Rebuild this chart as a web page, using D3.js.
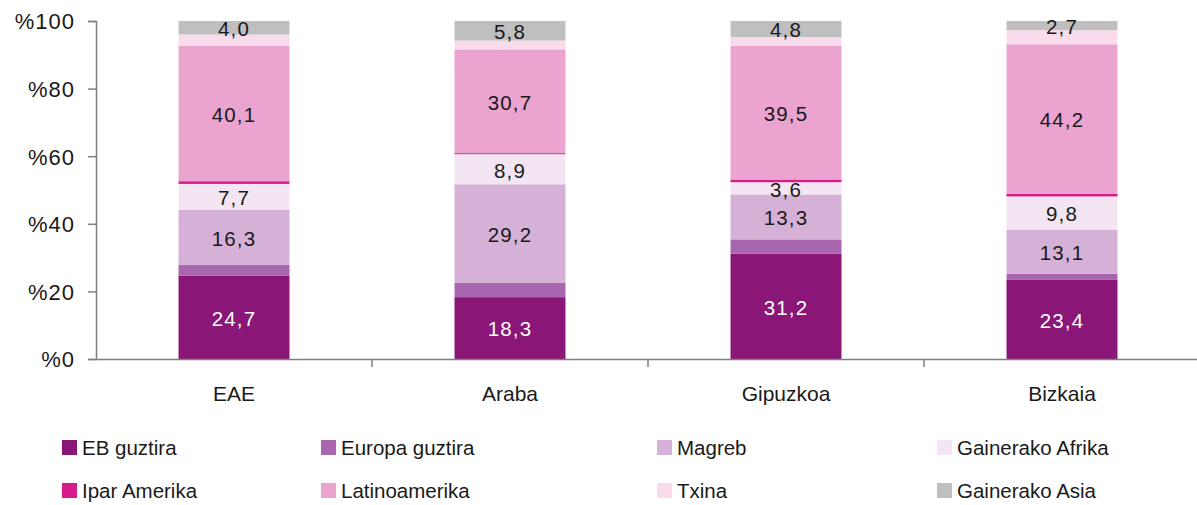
<!DOCTYPE html>
<html>
<head>
<meta charset="utf-8">
<script src="https://cdn.jsdelivr.net/npm/d3@7"></script>
<style>
html,body{margin:0;padding:0;background:#fff;}
svg{display:block;}
text{font-family:"Liberation Sans",Arial,sans-serif;fill:#1a1a1a;}
</style>
</head>
<body>
<svg id="chart" width="1197" height="505"></svg>
<script>
const categories = ["EAE", "Araba", "Gipuzkoa", "Bizkaia"];
const seriesNames = ["EB guztira", "Europa guztira", "Magreb", "Gainerako Afrika", "Ipar Amerika", "Latinoamerika", "Txina", "Gainerako Asia"];
const ebGuztira       = [24.7, 18.3, 31.2, 23.4];
const europaGuztira   = [3.1, 4.2, 4.2, 1.8];
const magreb          = [16.3, 29.2, 13.3, 13.1];
const gainerakoAfrika = [7.7, 8.9, 3.6, 9.8];
const iparAmerika     = [0.8, 0.3, 0.8, 0.8];
const latinoamerika   = [40.1, 30.7, 39.5, 44.2];
const txina           = [3.3, 2.6, 2.6, 4.2];
const gainerakoAsia   = [4.0, 5.8, 4.8, 2.7];
const yTicks = [0, 20, 40, 60, 80, 100];
const labelled = ["EB guztira", "Magreb", "Gainerako Afrika", "Latinoamerika", "Gainerako Asia"];

const seriesValues = [ebGuztira, europaGuztira, magreb, gainerakoAfrika, iparAmerika, latinoamerika, txina, gainerakoAsia];
const colors = ["#8a1677", "#a866ae", "#d6b1d7", "#f3e5f2", "#d61b8b", "#eba3cf", "#f8dcec", "#bfbfbf"];
const labelColors = ["#ffffff", "#1a1a1a", "#1a1a1a", "#1a1a1a", "#1a1a1a", "#1a1a1a", "#1a1a1a", "#1a1a1a"];

const rows = categories.map((c, i) => {
  const r = {cat: c};
  seriesNames.forEach((s, j) => r[s] = seriesValues[j][i]);
  return r;
});
const stacked = d3.stack().keys(seriesNames)(rows);

const svg = d3.select("#chart");
const x = d3.scaleBand().domain(categories).range([96, 1200]).padding(0);
const y = d3.scaleLinear().domain([0, 100]).range([359, 21]);
const barW = x.bandwidth() * 0.402;

const fmt = v => d3.format(".1f")(v).replace(".", ",");

// bars
const g = svg.append("g");
stacked.forEach((layer, j) => {
  g.selectAll(null).data(layer).enter().append("rect")
    .attr("x", d => x(d.data.cat) + x.bandwidth() / 2 - barW / 2)
    .attr("width", barW)
    .attr("y", d => y(d[1]))
    .attr("height", d => y(d[0]) - y(d[1]))
    .attr("fill", colors[j]);
});

// labels
stacked.forEach((layer, j) => {
  if (!labelled.includes(seriesNames[j])) return;
  g.selectAll(null).data(layer).enter().append("text")
    .attr("x", d => x(d.data.cat) + x.bandwidth() / 2)
    .attr("y", d => (y(d[0]) + y(d[1])) / 2 + 1)
    .attr("dy", "0.36em")
    .attr("text-anchor", "middle")
    .style("font-size", "20.5px")
    .style("letter-spacing", "1.2px")
    .style("fill", labelColors[j])
    .text(d => fmt(d[1] - d[0]));
});

// y axis
const yAxis = svg.append("g").attr("transform", "translate(96,0)")
  .call(d3.axisLeft(y).tickValues(yTicks).tickSize(8).tickPadding(13).tickFormat(d => "%" + d));
yAxis.select(".domain").attr("stroke", "#808080").attr("stroke-width", 1.5);
yAxis.selectAll(".tick line").attr("stroke", "#808080").attr("stroke-width", 1.5);
yAxis.selectAll(".tick text").style("font-size", "22px").style("letter-spacing", "1px")
  .style("font-family", "'Liberation Sans',Arial,sans-serif").attr("fill", "#1a1a1a").attr("dy", "0.36em");

// x axis
const xAxis = svg.append("g").attr("transform", "translate(0,359)")
  .call(d3.axisBottom(x).tickSize(0).tickPadding(27));
xAxis.select(".domain").attr("stroke", "#808080").attr("stroke-width", 1.5);
xAxis.selectAll(".tick text").style("font-size", "21px")
  .style("font-family", "'Liberation Sans',Arial,sans-serif").attr("fill", "#1a1a1a");
// category boundary ticks
const bounds = categories.slice(1).map(c => x(c));
svg.append("g").selectAll("line").data(bounds).enter().append("line")
  .attr("x1", d => d).attr("x2", d => d)
  .attr("y1", 359).attr("y2", 367)
  .attr("stroke", "#808080").attr("stroke-width", 1.5);

// legend
const legX = [62, 321, 657, 937];
const legY = [448, 491];
const leg = svg.append("g");
seriesNames.forEach((name, j) => {
  const col = j % 4, row = Math.floor(j / 4);
  const lg = leg.append("g").attr("transform", `translate(${legX[col]},${legY[row]})`);
  lg.append("rect").attr("x", 0).attr("y", -8).attr("width", 15).attr("height", 15).attr("fill", colors[j]);
  lg.append("text").attr("x", 20).attr("y", 0).attr("dy", "0.36em")
    .style("font-size", "20.5px").text(name);
});
</script>
</body>
</html>
